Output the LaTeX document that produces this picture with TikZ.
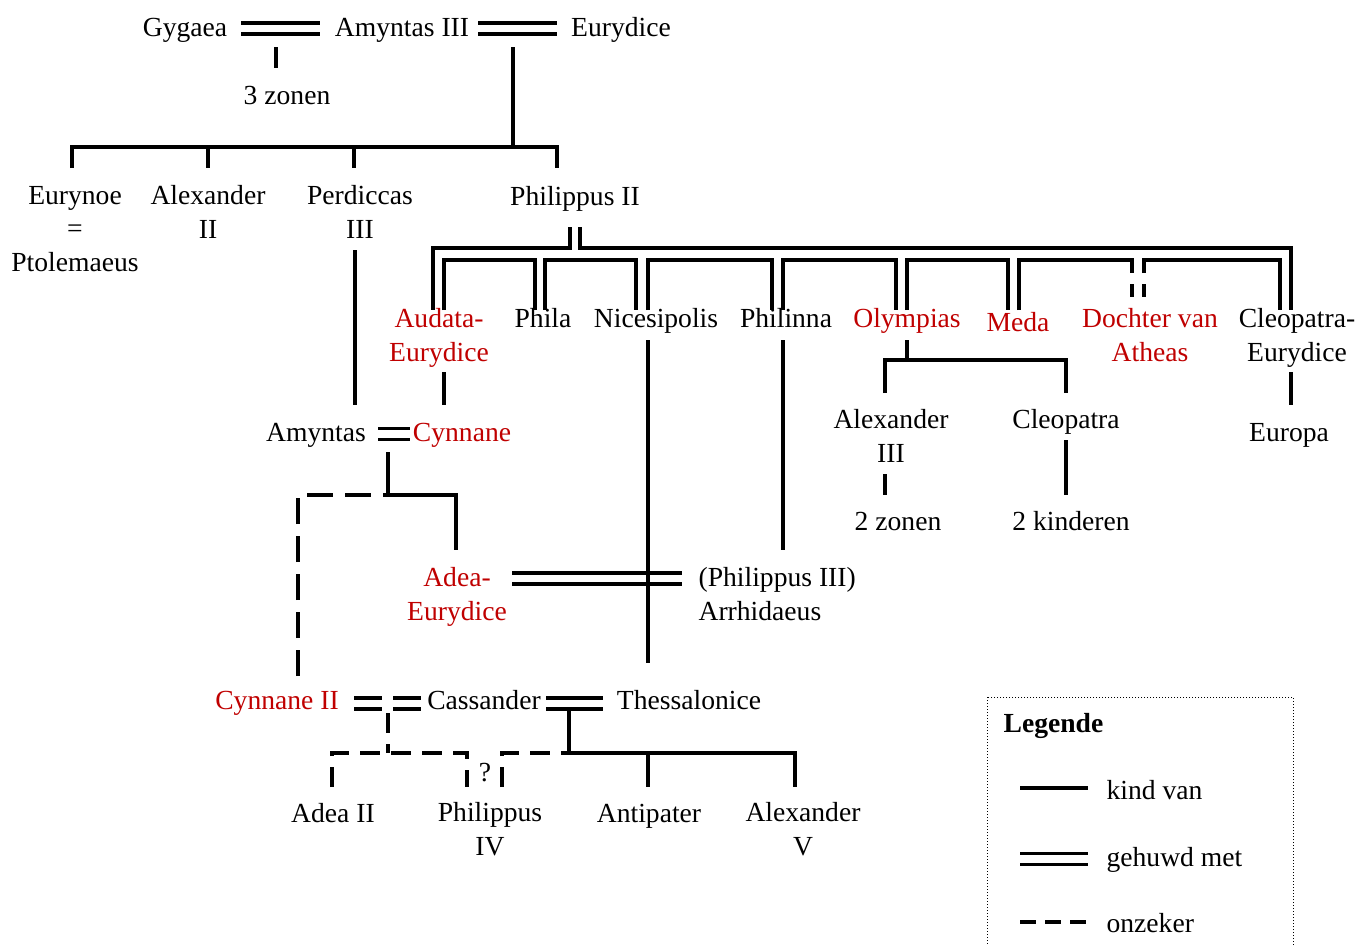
\documentclass[tikz,border=0pt]{standalone}
\usepackage{fontspec}
\setmainfont{Liberation Serif}
\definecolor{rd}{RGB}{192,0,0}
\begin{document}
\begin{tikzpicture}[x=1pt,y=-1pt,line width=3.2pt,
  every node/.style={font=\fontsize{27.6}{33.5}\selectfont,inner sep=0pt,align=center,anchor=base},
  rn/.style={text=rd},
  marr/.style={double=white,double distance=7.5pt,line width=3.5pt},
  unsure/.style={dash pattern=on 26pt off 12pt},
  unsureb/.style={dash pattern=on 20pt off 11pt},
  lgd/.style={anchor=base west,align=left}]
\fill[white] (0,0) rectangle (1359,945);
\useasboundingbox (0,0) rectangle (1359,945);
% generation 1
\node (gyg) at (185,36) {Gygaea};
\node (am3) at (402,36) {Amyntas III};
\node (eur) at (621,36) {Eurydice};
\draw[marr] (241,28.5) -- (320,28.5);
\draw[marr] (478,28.5) -- (557,28.5);
\draw (276,47) -- (276,68);
\node (zon3) at (287,104) {3 zonen};
\draw (513,47) -- (513,147);
\draw (72,168) -- (72,147) -- (557,147) -- (557,168);
\draw (208,147) -- (208,168);
\draw (354,147) -- (354,168);
% generation 2
\node (eurn) at (75,271) {Eurynoe\\=\\Ptolemaeus};
\node (alx2) at (208,238) {Alexander\\II};
\node (per3) at (360,238) {Perdiccas\\III};
\node (ph2) at (575,205) {Philippus II};
\draw (355,250) -- (355,405);
% marriages of Philippus II
\draw (570,227) -- (570,248) -- (433,248) -- (433,310);
\draw (580,227) -- (580,248) -- (1291,248) -- (1291,310);
\draw (444,310) -- (444,260) -- (535,260) -- (535,310);
\draw (545,310) -- (545,260) -- (636,260) -- (636,310);
\draw (648,310) -- (648,260) -- (772,260) -- (772,310);
\draw (783,310) -- (783,260) -- (896,260) -- (896,310);
\draw (907,310) -- (907,260) -- (1008,260) -- (1008,310);
\draw (1019,310) -- (1019,260) -- (1132,260) -- (1132,273);
\draw (1132,284) -- (1132,297);
\draw (1144,284) -- (1144,297);
\draw (1144,273) -- (1144,260) -- (1280,260) -- (1280,310);
% wives
\node[rn] (aud) at (439,361) {Audata-\\Eurydice};
\node (phi) at (543,327) {Phila};
\node (nic) at (656,327) {Nicesipolis};
\node (phn) at (786,327) {Philinna};
\node[rn] (oly) at (907,327) {Olympias};
\node[rn] (med) at (1018,331) {Meda};
\node[rn] (ath) at (1150,361) {Dochter van\\Atheas};
\node (cle) at (1297,361) {Cleopatra-\\Eurydice};
% Audata line
\draw (444,372) -- (444,405);
\node (amy) at (316,441) {Amyntas};
\node[rn] (cyn) at (462,441) {Cynnane};
\draw[marr] (378,434) -- (410,434);
\draw (388,452) -- (388,495);
\draw[unsure] (298,676) -- (298,495) -- (388,495);
\draw (388,495) -- (456,495) -- (456,550);
\node[rn] (ade) at (457,620) {Adea-\\Eurydice};
\draw[marr] (512,578.5) -- (682,578.5);
\node[lgd] (arr) at (697,620) {(Philippus III)\\Arrhidaeus};
\draw (648,340) -- (648,663);
\draw (783,340) -- (783,550);
% Olympias
\draw (907,340) -- (907,360);
\draw (885,393) -- (885,360) -- (1066,360) -- (1066,393);
\node (alx3) at (891,462) {Alexander\\III};
\node (clp) at (1066,428) {Cleopatra};
\draw (885,474) -- (885,495);
\draw (1066,440) -- (1066,495);
\node (zon2) at (898,530) {2 zonen};
\node (kin2) at (1071,530) {2 kinderen};
\draw (1291,372) -- (1291,405);
\node (eup) at (1289,441) {Europa};
% Cassander
\node[rn] (cy2) at (277,709) {Cynnane II};
\draw[marr] (354,703.5) -- (382,703.5);
\draw[marr] (393,703.5) -- (421,703.5);
\node (cas) at (484,709) {Cassander};
\draw[marr] (546,703.5) -- (603,703.5);
\node (the) at (689,709) {Thessalonice};
\draw[unsureb] (388,713) -- (388,753);
\draw[unsureb] (332,787) -- (332,753) -- (467,753) -- (467,787);
\node (q) at (485,781) {?};
\draw[unsureb] (502,787) -- (502,753) -- (569,753);
\draw (569,711) -- (569,753);
\draw (569,753) -- (795,753) -- (795,787);
\draw (648,753) -- (648,787);
\node (ad2) at (333,822) {Adea II};
\node (ph4) at (490,855) {Philippus\\IV};
\node (ant) at (649,822) {Antipater};
\node (al5) at (803,855) {Alexander\\V};
% legend
\draw[line width=1pt,dotted] (987,697) rectangle (1293,965);
\node[lgd,font=\fontsize{27.6}{33.5}\selectfont\bfseries] (leg) at (1002,732) {Legende};
\draw (1020,788) -- (1088,788);
\node[lgd] (l1) at (1105,799) {kind van};
\draw[marr] (1020,859) -- (1088,859);
\node[lgd] (l2) at (1105,866) {gehuwd met};
\draw[dash pattern=on 16pt off 9pt] (1020,922) -- (1086,922);
\node[lgd] (l3) at (1105,932) {onzeker};
\end{tikzpicture}
\end{document}
